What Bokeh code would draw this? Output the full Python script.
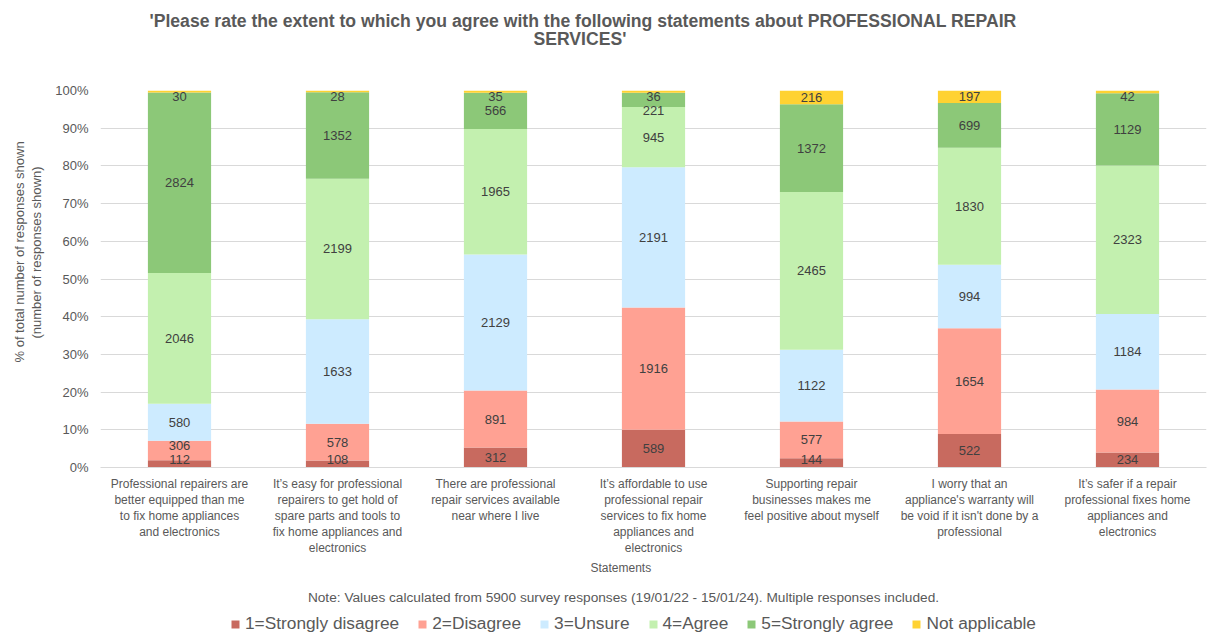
import numpy as np
from bokeh.plotting import figure
from bokeh.models import (ColumnDataSource, Range1d, NumeralTickFormatter, FixedTicker,
                          Title, Legend, LegendItem, Label)
from bokeh.layouts import column
from bokeh.embed import file_html
from bokeh.resources import INLINE
from bokeh.core.properties import value

categories = [
    "Professional repairers are\nbetter equipped than me\nto fix home appliances\nand electronics",
    "It\u2019s easy for professional\nrepairers to get hold of\nspare parts and tools to\nfix home appliances and\nelectronics",
    "There are professional\nrepair services available\nnear where I live",
    "It\u2019s affordable to use\nprofessional repair\nservices to fix home\nappliances and\nelectronics",
    "Supporting repair\nbusinesses makes me\nfeel positive about myself",
    "I worry that an\nappliance's warranty will\nbe void if it isn't done by a\nprofessional",
    "It\u2019s safer if a repair\nprofessional fixes home\nappliances and\nelectronics",
]
series = ["1=Strongly disagree", "2=Disagree", "3=Unsure", "4=Agree", "5=Strongly agree", "Not applicable"]
strongly_disagree = [112, 108, 312, 589, 144, 522, 234]
disagree = [306, 578, 891, 1916, 577, 1654, 984]
unsure = [580, 1633, 2129, 2191, 1122, 994, 1184]
agree = [2046, 2199, 1965, 945, 2465, 1830, 2323]
strongly_agree = [2824, 1352, 566, 221, 1372, 699, 1129]
not_applicable = [30, 28, 35, 36, 216, 197, 42]
colors = ["#C86A5F", "#FFA193", "#CDEBFF", "#C3F0AF", "#8CC878", "#FFD232"]

title_lines = ["'Please rate the extent to which you agree with the following statements about PROFESSIONAL REPAIR",
               "SERVICES'"]
y_title_lines = ["% of total number of responses shown", "(number of responses shown)"]
x_title = "Statements"
note = "Note: Values calculated from 5900 survey responses (19/01/22 - 15/01/24). Multiple responses included."
y_ticks = [0.0, 0.1, 0.2, 0.3, 0.4, 0.5, 0.6, 0.7, 0.8, 0.9, 1.0]

counts = np.array([strongly_disagree, disagree, unsure, agree, strongly_agree, not_applicable], dtype=float)
totals = counts.sum(axis=0)
pct = counts / totals

data = {"cat": categories}
keys = ["s%d" % i for i in range(len(series))]
for k, row in zip(keys, pct):
    data[k] = row
source = ColumnDataSource(data)

FONT = "Liberation Sans"
GREY = "#595959"
W = 1209
MAIN_H = 575
LEG_H = 634 - MAIN_H
FRAME_L, FRAME_R = 100, 1206

p = figure(x_range=categories, y_range=Range1d(0, 1), width=W, height=MAIN_H,
           output_backend="svg", toolbar_location=None,
           min_border_left=FRAME_L, min_border_right=W - FRAME_R, min_border_top=90,
           min_border_bottom=MAIN_H - 467)
p.outline_line_color = None
p.background_fill_color = "white"

renderers = p.vbar_stack(keys, x="cat", width=0.4, color=colors, line_color=None, source=source)

# data labels, centred in each segment, nudged apart like the spreadsheet did
cum = np.cumsum(pct, axis=0)
mids = cum - pct / 2
gap = 0.037
lo, hi = 0.021, 0.984
lab_x, lab_y, lab_t = [], [], []
for j in range(len(categories)):
    ys = list(mids[:, j])
    ys[0] = max(ys[0], lo)
    for i in range(1, len(ys)):
        if ys[i] - ys[i - 1] < gap:
            ys[i] = ys[i - 1] + gap
    ys[-1] = min(ys[-1], hi)
    for i in range(len(ys) - 2, -1, -1):
        if ys[i + 1] - ys[i] < gap:
            ys[i] = ys[i + 1] - gap
    for i in range(len(ys)):
        lab_x.append(categories[j])
        lab_y.append(ys[i])
        lab_t.append(str(int(counts[i, j])))
lsrc = ColumnDataSource(dict(x=lab_x, y=lab_y, t=lab_t))
p.text(x="x", y="y", text="t", source=lsrc, text_align="center", text_baseline="middle",
       text_font=value(FONT), text_font_size="13px", text_color="#404040")

# axes
p.yaxis.ticker = FixedTicker(ticks=y_ticks)
p.yaxis.formatter = NumeralTickFormatter(format="0%")
p.yaxis.axis_line_color = None
p.yaxis.major_tick_line_color = None
p.yaxis.minor_tick_line_color = None
p.yaxis.major_tick_out = 0
p.yaxis.major_tick_in = 0
p.yaxis.major_label_standoff = 12
p.yaxis.major_label_text_font = FONT
p.yaxis.major_label_text_font_size = "13px"
p.yaxis.major_label_text_color = GREY

p.xaxis.axis_line_color = "#D9D9D9"
p.xaxis.major_tick_line_color = None
p.xaxis.minor_tick_line_color = None
p.xaxis.major_tick_out = 0
p.xaxis.major_tick_in = 0
p.xaxis.major_label_standoff = 9
p.xaxis.major_label_text_font = FONT
p.xaxis.major_label_text_font_size = "12px"
p.xaxis.major_label_text_color = GREY
p.xaxis.major_label_text_line_height = 1.16

p.xgrid.grid_line_color = None
p.ygrid.grid_line_color = "#D9D9D9"
p.ygrid.ticker = FixedTicker(ticks=y_ticks)

# title (above): spacer nearest the frame, then line 2, then line 1
p.add_layout(Title(text=" ", text_font_size="1px", standoff=43), "above")
p.add_layout(Title(text=title_lines[1], align="left", offset=433, standoff=-8, text_font=FONT,
                   text_font_size="17.6px", text_font_style="bold", text_color=GREY), "above")
p.add_layout(Title(text=title_lines[0], align="left", offset=49, standoff=0, text_font=FONT,
                   text_font_size="17.6px", text_font_style="bold", text_color=GREY), "above")

# y title (left): spacer, line 2, line 1
p.add_layout(Title(text=" ", text_font_size="1px", standoff=6), "left")
p.add_layout(Title(text=y_title_lines[1], align="left", offset=129, standoff=0, text_font=FONT,
                   text_font_size="13px", text_font_style="normal", text_color=GREY), "left")
p.add_layout(Title(text=y_title_lines[0], align="left", offset=105, standoff=0, text_font=FONT,
                   text_font_size="13px", text_font_style="normal", text_color=GREY), "left")

# x title
p.add_layout(Title(text=x_title, align="left", offset=490, standoff=0, text_font=FONT,
                   text_font_size="12px", text_font_style="normal", text_color=GREY), "below")

# second strip (its frame lines up with the chart's frame): note and legend
q = figure(width=W, height=LEG_H, x_range=Range1d(FRAME_L, FRAME_R), y_range=Range1d(0, LEG_H),
           output_backend="svg", toolbar_location=None, x_axis_location=None, y_axis_location=None,
           min_border=0, min_border_left=FRAME_L, min_border_right=W - FRAME_R,
           min_border_top=0, min_border_bottom=0)
q.outline_line_color = None
q.xgrid.grid_line_color = None
q.ygrid.grid_line_color = None
q.add_layout(Label(x=623, y=LEG_H - 22, text=note, text_align="center", text_baseline="middle",
                   text_font=FONT, text_font_size="13.7px", text_color=GREY))
# legend swatches: off-range markers used only for the legend entries
dummies = [q.scatter(x=[-1000], y=[-1000], marker="square", size=8, fill_color=c, line_color=None)
           for c in colors]
legend = Legend(items=[LegendItem(label=s, renderers=[r]) for s, r in zip(series, dummies)],
                orientation="horizontal", location=(125, 0), glyph_width=20, glyph_height=20,
                label_standoff=0, spacing=13, padding=0, margin=0, border_line_color=None,
                background_fill_alpha=0, label_text_font=FONT, label_text_font_size="17.3px",
                label_text_color=GREY)
q.add_layout(legend, "center")

layout = column(p, q, spacing=0)
open("out.html", "w").write(file_html(layout, INLINE))
